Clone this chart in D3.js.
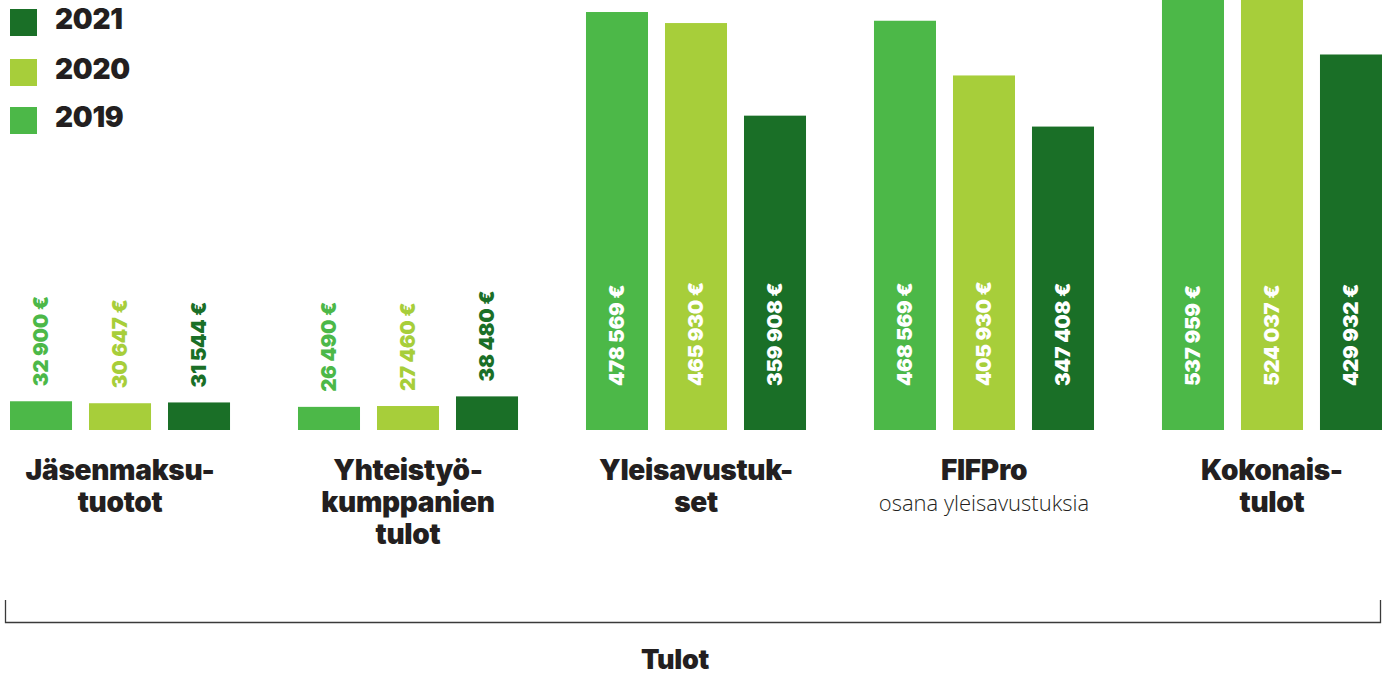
<!DOCTYPE html>
<html><head><meta charset="utf-8">
<script src="https://cdn.jsdelivr.net/npm/d3@7/dist/d3.min.js"></script>
<style>
html,body{margin:0;padding:0;background:#fff;}
svg{display:block;}
.heavy{font-family:Inter,"DejaVu Sans",sans-serif;font-weight:900;letter-spacing:-0.3px;}
</style></head>
<body>
<svg id="chart" width="1387" height="677"></svg>
<script>
const categories = ["Jäsenmaksutuotot","Yhteistyökumppanien tulot","Yleisavustukset","FIFPro","Kokonaistulot"];
const categoryLines = [["Jäsenmaksu-","tuotot"],["Yhteistyö-","kumppanien","tulot"],["Yleisavustuk-","set"],["FIFPro"],["Kokonais-","tulot"]];
const categorySub = ["","","","osana yleisavustuksia",""];
const years = ["2019","2020","2021"];
const legendOrder = ["2021","2020","2019"];
const values2019 = [32900, 26490, 478569, 468569, 537959];
const values2020 = [30647, 27460, 465930, 405930, 524037];
const values2021 = [31544, 38480, 359908, 347408, 429932];
const axisTitle = "Tulot";

const colors = {"2019":"#4cb848","2020":"#a7ce3a","2021":"#1a6f27"};
const seriesByYear = {"2019":values2019,"2020":values2020,"2021":values2021};
const fmt = v => d3.format(",")(v).replace(/,/g," ") + " €";

const svg = d3.select("#chart");
const x0 = d3.scaleBand().domain(categories).range([10,1382]).paddingInner(0.236).paddingOuter(0);
const x1 = d3.scaleBand().domain(years).range([0,x0.bandwidth()]).paddingInner(0.215).paddingOuter(0);
const y = d3.scaleLinear().domain([0,500000]).range([430,-6.7]);

const data = [];
categories.forEach((c,i)=>years.forEach(yr=>data.push({cat:c,year:yr,value:seriesByYear[yr][i]})));

const g = svg.append("g");
g.selectAll("rect.bar").data(data).join("rect")
  .attr("class","bar")
  .attr("x",d=>x0(d.cat)+x1(d.year))
  .attr("width",x1.bandwidth())
  .attr("y",d=>y(d.value))
  .attr("height",d=>y(0)-y(d.value))
  .attr("fill",d=>colors[d.year]);

g.selectAll("text.val").data(data).join("text")
  .attr("class","val heavy")
  .attr("transform",d=>{
    const cx = x0(d.cat)+x1(d.year)+x1.bandwidth()/2;
    const inside = (y(0)-y(d.value))>150;
    const yy = inside ? 386 : y(d.value)-15;
    return `translate(${cx},${yy}) rotate(-90)`;
  })
  .attr("dy","0.36em")
  .attr("text-anchor","start")
  .attr("font-size",20.5)
  .attr("fill",d=>(y(0)-y(d.value))>150 ? "#fff" : colors[d.year])
  .text(d=>fmt(d.value));

// category labels
const lab = svg.append("g");
categories.forEach((c,i)=>{
  const cx = x0(c)+x0.bandwidth()/2;
  const t = lab.append("text").attr("class","heavy").attr("text-anchor","middle")
    .attr("font-size",28).attr("fill","#231f20");
  categoryLines[i].forEach((ln,j)=>{
    t.append("tspan").attr("x",cx).attr("y",480+j*32).text(ln);
  });
  if(categorySub[i]){
    lab.append("text").attr("x",cx).attr("y",511).attr("text-anchor","middle")
      .attr("font-family","'Open Sans',sans-serif").attr("font-weight",300)
      .attr("font-size",22).attr("fill","#231f20").text(categorySub[i]);
  }
});

// legend
const leg = svg.append("g");
legendOrder.forEach((yr,i)=>{
  const yy = [9,59,107][i];
  leg.append("rect").attr("x",10).attr("y",yy).attr("width",27).attr("height",27).attr("fill",colors[yr]);
  leg.append("text").attr("class","heavy").attr("x",55).attr("y",yy+20)
    .attr("font-size",28).attr("fill","#231f20").text(yr);
});

// bracket
svg.append("path")
  .attr("d","M5.5,600 V622.5 H1380.5 V600")
  .attr("fill","none").attr("stroke","#3a3a3a").attr("stroke-width",1.3);
svg.append("text").attr("class","heavy").attr("x",675).attr("y",669)
  .attr("text-anchor","middle").attr("font-size",27).attr("fill","#231f20").text(axisTitle);
</script>
</body></html>
